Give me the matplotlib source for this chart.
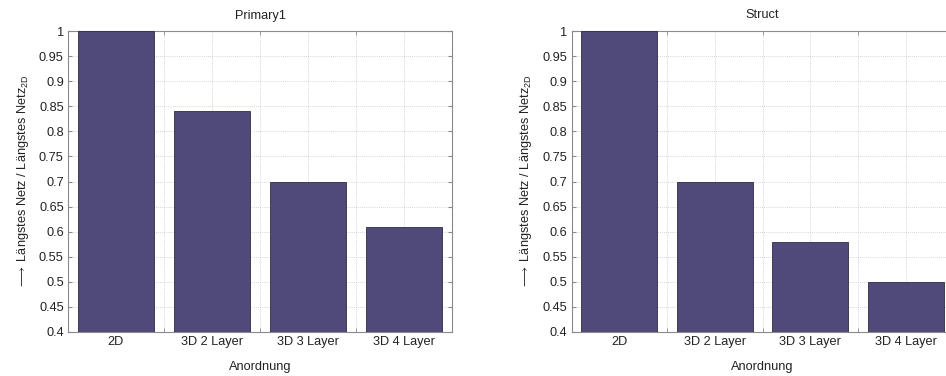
import matplotlib
matplotlib.use("Agg")
import matplotlib.pyplot as plt
from matplotlib.ticker import FixedLocator

plt.rcParams['font.family'] = ['Liberation Sans', 'DejaVu Sans']
plt.rcParams['mathtext.fontset'] = 'custom'
plt.rcParams['mathtext.rm'] = 'Liberation Sans'
plt.rcParams['mathtext.it'] = 'Liberation Sans:italic'
plt.rcParams['mathtext.sf'] = 'Liberation Sans'
plt.rcParams['mathtext.fallback'] = 'stixsans'

categories = ["2D", "3D 2 Layer", "3D 3 Layer", "3D 4 Layer"]
primary1 = [1.0, 0.84, 0.70, 0.61]
struct = [1.0, 0.70, 0.58, 0.50]
titles = ["Primary1", "Struct"]
y_ticks = [0.4, 0.45, 0.5, 0.55, 0.6, 0.65, 0.7, 0.75, 0.8, 0.85, 0.9, 0.95, 1.0]
y_ticklabels = ["0.4", "0.45", "0.5", "0.55", "0.6", "0.65", "0.7", "0.75",
                "0.8", "0.85", "0.9", "0.95", "1"]

bar_color = "#4f4a78"
edge_color = "#2e2b45"
spine_color = "#8a8a8a"
grid_color = "#c8c8c8"
text_color = "#222222"
fs = 9.2

fig = plt.figure(figsize=(9.46, 3.76), dpi=100)
positions = [
    [68 / 946, 1 - 332 / 376, 384 / 946, 301 / 376],
    [571.5 / 946, 1 - 332 / 376, 382 / 946, 301 / 376],
]

for pos, values, title in zip(positions, [primary1, struct], titles):
    ax = fig.add_axes(pos)
    x = list(range(1, len(categories) + 1))
    ax.bar(x, values, width=0.8, color=bar_color, edgecolor=edge_color,
           linewidth=0.6, zorder=3)
    ax.set_xlim(0.5, len(categories) + 0.5)
    ax.set_ylim(0.4, 1.0)
    ax.xaxis.set_major_locator(FixedLocator(x))
    ax.xaxis.set_minor_locator(FixedLocator([1.5, 2.5, 3.5]))
    ax.set_xticklabels(categories, fontsize=fs)
    ax.set_yticks(y_ticks)
    ax.set_yticklabels(y_ticklabels, fontsize=fs)
    ax.grid(True, which="both", axis="x", linestyle=(0, (1, 1.5)),
            color=grid_color, linewidth=0.6, zorder=0)
    ax.grid(True, which="major", axis="y", linestyle=(0, (1, 1.5)),
            color=grid_color, linewidth=0.6, zorder=0)
    ax.tick_params(which="both", direction="in", length=3, color=spine_color,
                   top=True, right=True, pad=3, labelcolor=text_color)
    ax.tick_params(axis="x", which="major", length=0, pad=3)
    for s in ax.spines.values():
        s.set_color(spine_color)
        s.set_linewidth(0.8)
    ax.set_title(title, fontsize=fs, pad=9, color=text_color)
    ax.set_xlabel("Anordnung", fontsize=fs, labelpad=9, color=text_color)
    ax.set_ylabel(r"$\longrightarrow$ Längstes Netz / Längstes Netz$_{\mathrm{2D}}$",
                  fontsize=fs, labelpad=6, color=text_color)

fig.savefig("out.png", dpi=100, facecolor="white")
